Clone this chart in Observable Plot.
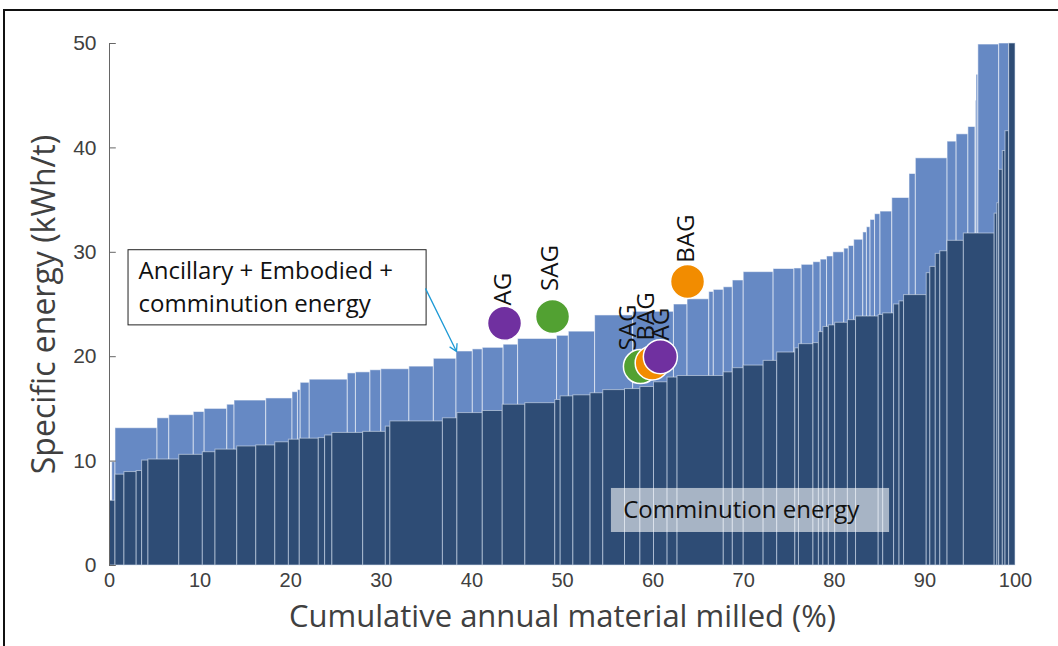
<!DOCTYPE html>
<html>
<head>
<meta charset="utf-8">
<script src="https://cdn.jsdelivr.net/npm/d3@7"></script>
<script src="https://cdn.jsdelivr.net/npm/@observablehq/plot@0.6"></script>
<style>
  html, body { margin: 0; padding: 0; background: #fff; }
  #wrap { position: relative; width: 1058px; height: 646px; overflow: hidden; }
  #frame { position: absolute; left: 3px; top: 9px; width: 1200px; height: 800px;
           border-top: 2px solid #111; border-left: 2px solid #111; pointer-events: none; }
</style>
</head>
<body>
<div id="wrap"><div id="frame"></div></div>
<script>
// Ancillary + Embodied + comminution energy (light bars): cumulative % breakpoints and kWh/t
const totalBreaks = [0,0.3,0.66,5.3,6.6,9.3,10.5,13.0,13.8,17.3,20.2,20.8,21.1,22.1,26.3,27.2,28.8,30.0,33.1,35.8,
  38.3,40.1,41.2,43.5,45.1,49.4,50.7,53.6,57.8,62.3,63.8,66.2,66.7,67.8,68.8,70.0,73.3,75.6,76.4,77.7,
  78.5,79.2,79.9,81.1,81.6,82.2,83.2,83.6,84.0,84.5,85.1,86.4,88.3,89.0,92.5,93.5,94.8,95.6,95.7,95.9,
  98.2,99.3];
const totalEnergy = [4.5,9.9,13.15,14.1,14.4,14.7,15.0,15.4,15.8,16.0,16.6,16.8,17.5,17.8,18.4,18.5,18.7,18.8,19.05,19.8,
  20.5,20.7,20.85,21.15,21.7,22.0,22.4,23.95,24.3,25.0,25.5,26.2,26.4,26.65,27.3,28.1,28.4,28.45,28.8,29.05,
  29.3,29.6,30.0,30.35,30.6,31.2,31.9,32.4,33.1,33.65,33.9,35.2,37.5,39.0,40.6,41.3,42.0,44.5,47.0,49.9,50.0];

// Comminution energy (dark bars)
const commBreaks = [0.05,0.66,1.65,3.0,3.6,4.3,7.7,10.3,11.7,14.1,16.2,18.3,19.8,21.0,23.1,23.8,24.6,28.0,30.5,31.0,
  36.8,38.4,41.2,43.4,45.9,49.2,49.8,51.2,53.1,54.5,56.9,58.6,60.1,61.6,62.7,67.8,68.8,70.0,72.2,73.7,
  75.7,76.1,77.7,78.3,78.8,79.4,80.1,81.5,82.4,84.9,85.4,86.6,87.2,87.7,90.2,90.6,91.2,91.7,92.5,94.3,
  97.7,98.0,98.2,98.6,98.9,99.3,100];
const commEnergy = [6.2,8.7,8.95,9.05,10.05,10.15,10.6,10.85,11.1,11.4,11.5,11.8,12.05,12.15,12.2,12.45,12.7,12.8,13.3,13.8,
  14.1,14.6,14.8,15.4,15.55,15.85,16.2,16.3,16.5,16.8,16.9,17.1,17.55,18.0,18.15,18.5,18.9,19.15,19.6,20.4,
  20.8,21.2,21.3,22.35,22.85,23.0,23.25,23.5,23.85,24.0,24.15,25.0,25.3,25.9,28.0,28.6,29.85,30.1,31.1,31.8,
  33.7,34.7,37.9,39.7,41.6,50];

// Highlighted plants
const plantType = ["AG","SAG","SAG","BAG","AG","BAG"];
const plantX = [43.6,48.9,58.6,59.9,60.8,63.8];
const plantY = [23.2,23.85,19.05,19.4,20.0,27.2];
const labelX = [43.5,48.6,57.3,59.2,60.9,63.7];
const labelY = [24.9,26.3,20.6,21.55,21.55,29.0];
const typeColor = {AG: "#7030A0", SAG: "#52A132", BAG: "#F28C00"};

const xTicks = [0,10,20,30,40,50,60,70,80,90,100];
const yTicks = [0,10,20,30,40,50];

const totalRows = totalEnergy.map((v, i) => ({x1: totalBreaks[i], x2: totalBreaks[i+1], y: v}));
const commRows = commEnergy.map((v, i) => ({x1: commBreaks[i], x2: commBreaks[i+1], y: v}));
const plants = plantType.map((t, i) => ({type: t, x: plantX[i], y: plantY[i], lx: labelX[i], ly: labelY[i]}));

const tickFont = "'Liberation Sans Narrow', 'Liberation Sans', Arial, sans-serif";
const textFont = "'Open Sans', 'Noto Sans', sans-serif";

const chart = Plot.plot({
  width: 1058,
  height: 646,
  marginLeft: 109,
  marginRight: 43,
  marginTop: 43,
  marginBottom: 81,
  style: {background: "transparent", fontFamily: textFont},
  x: {domain: [0, 100]},
  y: {domain: [0, 50]},
  marks: [
    Plot.rect(totalRows, {x1: "x1", x2: "x2", y1: 0, y2: "y", fill: "#6689C4",
      stroke: "white", strokeOpacity: 0.55, strokeWidth: 1}),
    Plot.rect(commRows, {x1: "x1", x2: "x2", y1: 0, y2: "y", fill: "#2E4C75",
      stroke: "#d8e2f0", strokeOpacity: 0.6, strokeWidth: 1}),
    // comminution label box
    Plot.rect([0], {x1: 55.4, x2: 86.1, y1: 3.16, y2: 7.38, fill: "white", fillOpacity: 0.58}),
    Plot.text(["Comminution energy"], {x: 56.7, y: 5.27, textAnchor: "start", fontSize: 24,
      fill: "#111", fontFamily: textFont}),
    // annotation box
    Plot.rect([0], {x1: 2.1, x2: 35.0, y1: 23.0, y2: 30.2, fill: "white", stroke: "#222", strokeWidth: 1}),
    Plot.text(["Ancillary + Embodied +\ncomminution energy"], {x: 3.2, y: 29.7, textAnchor: "start",
      lineAnchor: "top", lineHeight: 1.38, fontSize: 24, fill: "#111", fontFamily: textFont}),
    Plot.arrow([0], {x1: 34.9, y1: 26.5, x2: 38.3, y2: 20.5, stroke: "#1E9AD6", strokeWidth: 1.3,
      headLength: 9}),
    // plants
    Plot.dot(plants, {x: "x", y: "y", r: 17, fill: d => typeColor[d.type], stroke: "white", strokeWidth: 1.5}),
    Plot.text(plants, {x: "lx", y: "ly", text: "type", rotate: -90, textAnchor: "start",
      fontSize: 24, fill: "#111", fontFamily: textFont}),
    // axes
    Plot.ruleX([0], {y1: 0, y2: 50, stroke: "#666", strokeWidth: 1}),
    Plot.ruleY(yTicks, {x1: 0, x2: 0.75, stroke: "#666", strokeWidth: 1}),
    Plot.axisY({ticks: yTicks, tickSize: 0, tickPadding: 13, fontSize: 21, color: "#404040",
      fontFamily: tickFont, label: null}),
    Plot.axisX({ticks: xTicks, tickSize: 0, tickPadding: 7, fontSize: 20, color: "#404040",
      fontFamily: tickFont, label: null}),
    Plot.text(["Cumulative annual material milled (%)"], {frameAnchor: "bottom", dy: 61, fontSize: 31,
      fill: "#404040", fontFamily: textFont}),
    Plot.text(["Specific energy (kWh/t)"], {frameAnchor: "left", dx: -65, rotate: -90, textAnchor: "middle",
      fontSize: 32, fill: "#404040", fontFamily: textFont})
  ]
});
document.getElementById("wrap").prepend(chart);
</script>
</body>
</html>
